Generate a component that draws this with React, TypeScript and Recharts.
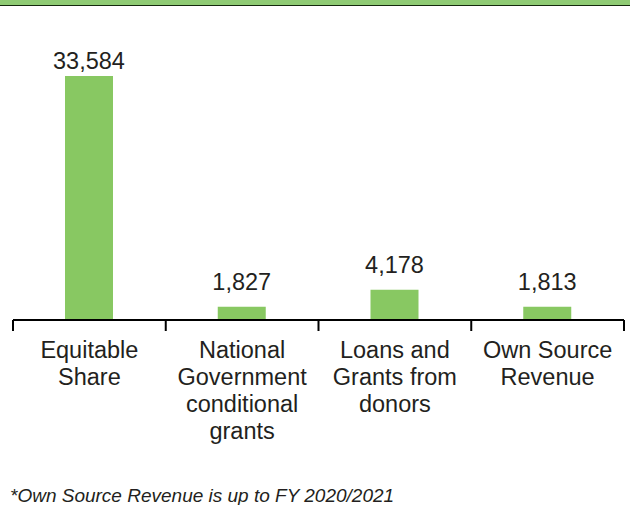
import React from "react";
import { BarChart, Bar, XAxis, YAxis, LabelList } from "recharts";

const categories = [
  "Equitable Share",
  "National Government conditional grants",
  "Loans and Grants from donors",
  "Own Source Revenue",
];
const categoryLines = [
  ["Equitable", "Share"],
  ["National", "Government", "conditional", "grants"],
  ["Loans and", "Grants from", "donors"],
  ["Own Source", "Revenue"],
];
const amounts = [33584, 1827, 4178, 1813];
const footnote = "*Own Source Revenue is up to FY 2020/2021";

const data = categories.map((name, i) => ({ name, value: amounts[i] }));

const FONT = '"Liberation Sans", Arial, Helvetica, sans-serif';
const TEXT = "#231f20";
const LABEL_MIN_Y = 69; // keep the tallest value label inside the plot area

function CategoryTick(props: any) {
  const { x, y, payload, index } = props;
  const half = payload?.offset ?? 76;
  const lines = categoryLines[index] ?? [String(payload.value)];
  const last = index === categories.length - 1;
  return (
    <g>
      <line x1={x - half} x2={x - half} y1={y} y2={y + 11} stroke="#000" strokeWidth={2} />
      {last && <line x1={x + half} x2={x + half} y1={y} y2={y + 11} stroke="#000" strokeWidth={2} />}
      <text x={x} y={y} textAnchor="middle" fill={TEXT} fontSize={23.5} fontFamily={FONT}>
        {lines.map((l, i) => (
          <tspan key={i} x={x} dy={i === 0 ? 37.5 : 27.3}>
            {l}
          </tspan>
        ))}
      </text>
    </g>
  );
}

function ValueLabel(props: any) {
  const { x, y, width, value } = props;
  const ty = Math.max(y - 17, LABEL_MIN_Y);
  return (
    <text x={x + width / 2} y={ty} textAnchor="middle" fill={TEXT} fontSize={23.5} fontFamily={FONT}>
      {Number(value).toLocaleString("en-US")}
    </text>
  );
}

export default function App() {
  return (
    <div style={{ position: "absolute", left: 0, top: 0, width: 630, height: 505, background: "#fff", fontFamily: FONT }}>
      <div style={{ height: 5, background: "#8fcb74", borderBottom: "1.5px solid #14290c" }} />
      <BarChart
        width={630}
        height={470}
        data={data}
        margin={{ top: 76, right: 6, left: 13, bottom: 20 }}
        style={{ position: "absolute", left: 0, top: 0 }}
      >
        <YAxis hide domain={[0, "dataMax"]} />
        <XAxis
          dataKey="name"
          height={130}
          interval={0}
          tickSize={0}
          tickMargin={0}
          tickLine={false}
          axisLine={{ stroke: "#000", strokeWidth: 2 }}
          tick={<CategoryTick />}
        />
        <Bar dataKey="value" fill="#88c862" barSize={48} isAnimationActive={false}>
          <LabelList dataKey="value" content={<ValueLabel />} />
        </Bar>
      </BarChart>
      <div
        style={{
          position: "absolute",
          left: 10,
          top: 485,
          fontSize: 19,
          fontStyle: "italic",
          color: TEXT,
          fontFamily: FONT,
          whiteSpace: "nowrap",
        }}
      >
        {footnote}
      </div>
    </div>
  );
}
